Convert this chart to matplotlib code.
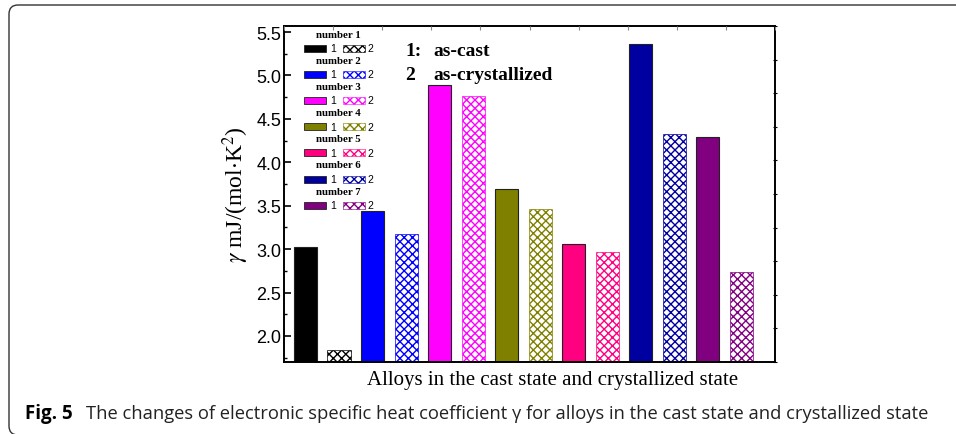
import matplotlib.pyplot as plt
from matplotlib.patches import Rectangle, PathPatch
from matplotlib.path import Path

# data (gamma in mJ/(mol K^2))
alloys = ['number 1', 'number 2', 'number 3', 'number 4', 'number 5', 'number 6', 'number 7']
as_cast = [3.03, 3.44, 4.89, 3.69, 3.06, 5.36, 4.29]
as_cryst = [1.84, 3.17, 4.76, 3.46, 2.97, 4.33, 2.74]
colors = ['#000000', '#0000ff', '#ff00ff', '#808000', '#ff0080', '#0000a0', '#800080']

W, H = 956, 435
serif = 'Liberation Serif'
sans = 'Liberation Sans'
plt.rcParams['hatch.linewidth'] = 1.0
plt.rcParams['mathtext.fontset'] = 'stix'


def px(x, y):
    # pixel position (top-left origin) -> figure fraction
    return x / W, 1 - y / H


fig = plt.figure(figsize=(W / 100, H / 100), dpi=100)

# outer frame of the figure panel: top and left edges with rounded corners
r = 9
pts = [px(W + 5, 6), px(9 + r, 6), px(9, 6), px(9, 6 + r), px(9, 436 - r), px(9, 436),
       px(9 + r, 436), px(W + 5, 436)]
codes = [Path.MOVETO, Path.LINETO, Path.CURVE3, Path.CURVE3, Path.LINETO, Path.CURVE3,
         Path.CURVE3, Path.LINETO]
fig.add_artist(PathPatch(Path(pts, codes), transform=fig.transFigure, facecolor='none',
                         edgecolor='#333333', linewidth=1.0))

l, b = px(284, 363)
ax = fig.add_axes([l, b, (775 - 284) / W, (363 - 27) / H])

# bars: cast (solid) then crystallized (hatched) for each alloy
for i, name in enumerate(alloys):
    x1 = 2 * i + 1
    ax.bar(x1, as_cast[i], width=0.69, color=colors[i], edgecolor='#222222', linewidth=0.8)
    ax.bar(x1 + 1, as_cryst[i], width=0.69, facecolor='white', edgecolor=colors[i],
           hatch='xxxx', linewidth=0.5)

ax.set_xlim(0.36, 15.0)
ax.set_ylim(1.7, 5.57)
ax.set_xticks([])
ax.set_yticks([2.0, 2.5, 3.0, 3.5, 4.0, 4.5, 5.0, 5.5])
ax.set_yticks([1.75, 2.25, 2.75, 3.25, 3.75, 4.25, 4.75, 5.25], minor=True)
ax.tick_params(axis='y', which='major', direction='in', length=5, width=1.2,
               labelsize=13, pad=2)
ax.tick_params(axis='y', which='minor', direction='in', length=2.5, width=1.0)
for lab in ax.get_yticklabels():
    lab.set_fontfamily(sans)
for s in ax.spines.values():
    s.set_linewidth(1.4)

ax.set_ylabel(r'$\gamma$ mJ/(mol$\cdot$K$^2$)', fontfamily=serif, fontsize=17, labelpad=4)
ax.set_xlabel('Alloys in the cast state and crystallized state', fontfamily=serif,
              fontsize=15)
ax.xaxis.set_label_coords(0.546, -0.025)

# odd extra ticks on top and right frame
top = ax.twiny()
top.set_xlim(0, 10)
top.set_xticks(range(11))
top.tick_params(axis='x', direction='in', length=3, color='#888888', labeltop=False)
right = ax.twinx()
right.set_ylim(0, 10)
right.set_yticks(range(11))
right.tick_params(axis='y', direction='inout', length=3, labelright=False)
for a in (top, right):
    for s in a.spines.values():
        s.set_visible(False)

# hand made legend
for i, name in enumerate(alloys):
    ty = 35 + 26.2 * i
    py = 49 + 26.2 * i
    fig.text(*px(338, ty), name, fontfamily=serif, fontweight='bold', fontsize=7.8,
             ha='center', va='center')
    fig.add_artist(Rectangle(px(304, py + 3.5), 22 / W, 7 / H, transform=fig.transFigure,
                             facecolor=colors[i], edgecolor='#222222', linewidth=0.6))
    fig.text(*px(330, py), '1', fontfamily=sans, fontsize=7.5, va='center')
    fig.add_artist(Rectangle(px(343, py + 3.5), 22 / W, 7 / H, transform=fig.transFigure,
                             facecolor='white', edgecolor=colors[i], hatch='xxxx',
                             linewidth=0.4))
    fig.text(*px(367, py), '2', fontfamily=sans, fontsize=7.5, va='center')

fig.text(*px(405, 52), '1:', fontfamily=serif, fontweight='bold', fontsize=14, va='center')
fig.text(*px(433, 52), 'as-cast', fontfamily=serif, fontweight='bold', fontsize=14, va='center')
fig.text(*px(405, 75), '2', fontfamily=serif, fontweight='bold', fontsize=14, va='center')
fig.text(*px(433, 75), 'as-crystallized', fontfamily=serif, fontweight='bold', fontsize=14,
         va='center')

# caption
fig.text(*px(25, 414), 'Fig. 5', fontfamily='Open Sans', fontweight='bold',
         fontsize=13.5, va='center')
fig.text(*px(86, 414), 'The changes of electronic specific heat coefficient \u03b3 for alloys '
         'in the cast state and crystallized state', fontfamily='Open Sans', fontsize=13.2,
         va='center', color='#222222')

fig.savefig('out.png', dpi=100)
